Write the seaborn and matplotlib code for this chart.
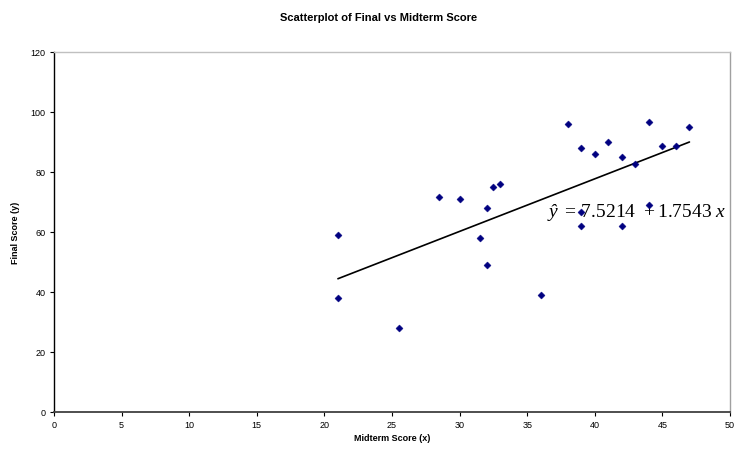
import matplotlib
matplotlib.use("Agg")
import matplotlib.pyplot as plt
import seaborn as sns
import pandas as pd
import numpy as np

midterm = [21, 21, 25.5, 28.5, 30, 31.5, 32, 32, 32.5, 33, 36, 38, 39, 39, 39,
           40, 41, 42, 42, 43, 44, 44, 45, 46, 47]
final = [59, 38, 28, 71.5, 71, 58, 68, 49, 75, 76, 39, 96, 88, 66.5, 62,
         86, 90, 85, 62, 82.5, 96.5, 69, 88.5, 88.5, 95]
intercept = 7.5214
slope = 1.7543
x_ticks = [0, 5, 10, 15, 20, 25, 30, 35, 40, 45, 50]
y_ticks = [0, 20, 40, 60, 80, 100, 120]

sns.set_theme(style="white")
plt.rcParams['font.family'] = ['Liberation Sans', 'DejaVu Sans']
plt.rcParams['mathtext.fontset'] = 'custom'
plt.rcParams['mathtext.rm'] = 'Liberation Serif'
plt.rcParams['mathtext.it'] = 'Liberation Serif:italic'
plt.rcParams['text.color'] = 'black'
plt.rcParams['axes.labelcolor'] = 'black'

df = pd.DataFrame({"Midterm": midterm, "Final": final})
xs = np.array([min(midterm), max(midterm)])
fit = pd.DataFrame({"Midterm": xs, "Final": intercept + slope * xs})

fig = plt.figure(figsize=(7.35, 4.52), dpi=100)
ax = fig.add_axes([54/735, 1 - 412.7/452, (730-54)/735, (412.7-53)/452])

sns.lineplot(data=fit, x="Midterm", y="Final", color="black", linewidth=1.2, ax=ax, zorder=2)
sns.scatterplot(data=df, x="Midterm", y="Final", marker="D", color="#000080",
                s=13, edgecolor="#000080", linewidth=0.3, ax=ax, zorder=3)

ax.set_xlim(0, 50)
ax.set_ylim(0, 120)
ax.set_xticks(x_ticks)
ax.set_yticks(y_ticks)
ax.tick_params(axis="both", labelsize=6.5, length=3, width=0.8, direction="out",
               bottom=True, left=True, pad=3, colors="black")
ax.set_xlabel("Midterm Score (x)", fontsize=6.5, fontweight="bold", labelpad=3)
ax.set_ylabel("Final Score (y)", fontsize=6.5, fontweight="bold", labelpad=8)

ax.spines["left"].set_color("black")
ax.spines["left"].set_linewidth(1.0)
ax.spines["bottom"].set_color("#404040")
ax.spines["bottom"].set_linewidth(1.3)
ax.spines["top"].set_color("#c0c0c0")
ax.spines["top"].set_linewidth(1.0)
ax.spines["right"].set_color("#a0a0a0")
ax.spines["right"].set_linewidth(1.0)

eq = r"$\mathit{ŷ}\ \mathrm{=}\,\mathrm{7.5214}\ \ \mathrm{+}\,\mathrm{1.7543}\ \mathit{x}$"
ax.text(36.5, 65.3, eq, fontsize=14, va="baseline", ha="left", zorder=1)

fig.text(379/735, 1 - 18/452, "Scatterplot of Final vs Midterm Score",
         ha="center", va="center", fontsize=8, fontweight="bold")

fig.savefig("out.png", dpi=100)
